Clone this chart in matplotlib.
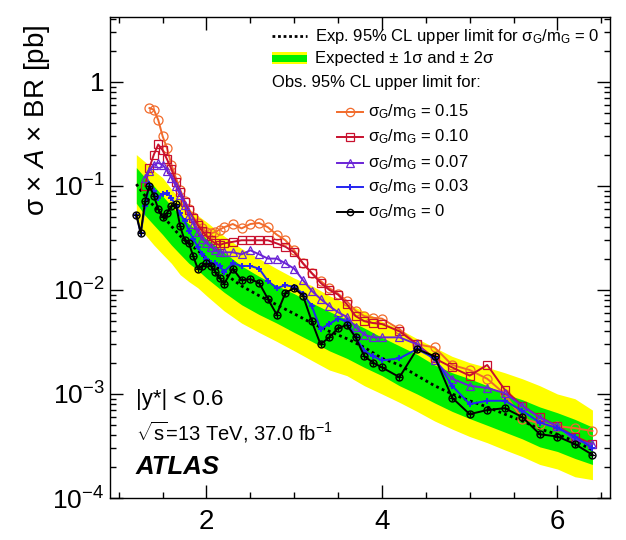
import numpy as np
import matplotlib
matplotlib.use('Agg')
import matplotlib.pyplot as plt
from matplotlib.lines import Line2D
from matplotlib.patches import Rectangle
from matplotlib.ticker import FixedLocator, FuncFormatter, NullFormatter, LogLocator

plt.rcParams['font.family'] = ['Liberation Sans', 'DejaVu Sans']
plt.rcParams['mathtext.fontset'] = 'custom'
plt.rcParams['mathtext.rm'] = 'Liberation Sans'
plt.rcParams['mathtext.it'] = 'Liberation Sans:italic'
plt.rcParams['mathtext.bf'] = 'Liberation Sans:bold'
plt.rcParams['mathtext.sf'] = 'Liberation Sans'

nan = np.nan

# ---------------- data ----------------
mass = [1.20, 1.25, 1.30, 1.35, 1.40, 1.45, 1.50, 1.55, 1.60, 1.65, 1.70, 1.75, 1.80, 1.85, 1.90,
        1.95, 2.00, 2.05, 2.10, 2.15, 2.20,
        2.3, 2.4, 2.5, 2.6, 2.7, 2.8, 2.9, 3.0, 3.1, 3.2, 3.3, 3.4, 3.5, 3.6, 3.7, 3.8, 3.9, 4.0,
        4.2, 4.4, 4.6, 4.8, 5.0, 5.2, 5.4, 5.6, 5.8, 6.0, 6.2, 6.4]

obs_015 = [nan, nan, nan, 0.56, 0.54, 0.43, 0.30, 0.23, 0.16, 0.12, 0.092, 0.072, 0.060, 0.050, 0.044,
           0.039, 0.036, 0.035, 0.036, 0.038, 0.040,
           0.043, 0.039, 0.043, 0.044, 0.040, 0.034, 0.030, 0.024, 0.018, 0.0145, 0.0122, 0.0104, 0.0092,
           0.0078, 0.0063, 0.0056, 0.0054, 0.0053,
           0.0042, 0.0030, 0.0028, 0.0019, 0.0017, 0.0014, 0.0010, 0.00058, 0.00052, 0.00049, 0.00047, 0.00044]

obs_010 = [nan, nan, 0.10, 0.15, 0.20, 0.25, 0.22, 0.18, 0.145, 0.11, 0.088, 0.070, 0.058, 0.049, 0.042,
           0.037, 0.033, 0.030, 0.028, 0.027, 0.028,
           0.029, 0.030, 0.030, 0.030, 0.030, 0.028, 0.026, 0.023, 0.018, 0.0145, 0.0117, 0.0100, 0.0090,
           0.0073, 0.0056, 0.0050, 0.0048, 0.0047,
           0.0040, 0.0030, 0.0022, 0.0018, 0.0015, 0.0019, 0.0011, 0.00077, 0.00060, 0.00049, 0.00039, 0.00033]

obs_007 = [nan, nan, 0.12, 0.14, 0.16, 0.166, 0.16, 0.14, 0.12, 0.10, 0.082, 0.066, 0.052, 0.043, 0.036,
           0.031, 0.028, 0.026, 0.024, 0.023, 0.023,
           0.023, 0.022, 0.024, 0.022, 0.020, 0.020, 0.018, 0.016, 0.0124, 0.0098, 0.0082, 0.0070, 0.0061,
           0.0055, 0.0044, 0.0037, 0.0035, 0.0035,
           0.0035, 0.0030, 0.0021, 0.0014, 0.0012, 0.00114, 0.00102, 0.00077, 0.00059, 0.00049, 0.00036, 0.00033]

obs_003 = [0.053, 0.035, 0.064, 0.104, 0.090, 0.077, 0.084, 0.086, 0.077, 0.064, 0.055, 0.046, 0.037, 0.031, 0.026,
           0.022, 0.020, 0.018, 0.018, 0.017, 0.015,
           0.018, 0.017, 0.017, 0.016, 0.0122, 0.0104, 0.0111, 0.0107, 0.0092, 0.0070, 0.0042, 0.0047, 0.0053,
           0.0050, 0.0035, 0.0026, 0.0023, 0.0021,
           0.0022, 0.0027, 0.0022, 0.0012, 0.00080, 0.00086, 0.00086, 0.00069, 0.00053, 0.00047, 0.00039, 0.00030]

obs_000 = [0.053, 0.035, 0.072, 0.100, 0.080, 0.060, 0.050, 0.055, 0.064, 0.067, 0.041, 0.030, 0.028, 0.021, 0.016,
           0.017, 0.018, 0.017, 0.015, 0.013, 0.0114,
           0.016, 0.0124, 0.0127, 0.0117, 0.0082, 0.0058, 0.0094, 0.0104, 0.0088, 0.0050, 0.0030, 0.0035, 0.0043,
           0.0046, 0.0035, 0.0023, 0.0020, 0.0018,
           0.00145, 0.0027, 0.0023, 0.00092, 0.00064, 0.00070, 0.00073, 0.00060, 0.00041, 0.00039, 0.00033, 0.00026]

exp_mass = [1.2, 1.3, 1.4, 1.5, 1.6, 1.7, 1.8, 1.9, 2.0, 2.2, 2.4, 2.6, 2.8, 3.0, 3.2, 3.4, 3.6, 3.8,
            4.0, 4.2, 4.4, 4.6, 4.8, 5.0, 5.2, 5.4, 5.6, 5.8, 6.0, 6.2, 6.4]
exp_med = [0.104, 0.080, 0.064, 0.052, 0.041, 0.033, 0.028, 0.024, 0.020, 0.0145, 0.0109, 0.0088, 0.0072,
           0.0059, 0.0048, 0.0040, 0.0034, 0.0028, 0.0022, 0.0019, 0.0015, 0.0012, 0.0010, 0.00086, 0.00075,
           0.00064, 0.00055, 0.00046, 0.00041, 0.00035, 0.00029]
exp_p2 = [0.20, 0.17, 0.14, 0.12, 0.093, 0.075, 0.060, 0.052, 0.045, 0.033, 0.025, 0.020, 0.016, 0.013,
          0.011, 0.0088, 0.0074, 0.0062, 0.0050, 0.0042, 0.0034, 0.0028, 0.0023, 0.0020, 0.0018, 0.0016,
          0.0014, 0.0012, 0.0010, 0.00090, 0.00070]
exp_p1 = [0.15, 0.12, 0.10, 0.080, 0.064, 0.052, 0.043, 0.037, 0.031, 0.023, 0.017, 0.0135, 0.011, 0.0092,
          0.0075, 0.0062, 0.0052, 0.0043, 0.0035, 0.0029, 0.0024, 0.0019, 0.0016, 0.0014, 0.0012, 0.0010,
          0.00088, 0.00075, 0.00066, 0.00057, 0.00048]
exp_m1 = [0.068, 0.052, 0.042, 0.034, 0.027, 0.022, 0.018, 0.0155, 0.013, 0.0095, 0.0072, 0.0058, 0.0048,
          0.0039, 0.0032, 0.0026, 0.0022, 0.0018, 0.0015, 0.0012, 0.0010, 0.00082, 0.00068, 0.00058, 0.00050,
          0.00043, 0.00037, 0.00031, 0.00028, 0.00024, 0.00021]
exp_m2 = [0.045, 0.034, 0.027, 0.022, 0.018, 0.014, 0.012, 0.0105, 0.0088, 0.0063, 0.0048, 0.0039, 0.0032,
          0.0026, 0.0021, 0.0017, 0.0015, 0.0012, 0.0010, 0.00083, 0.00068, 0.00055, 0.00046, 0.00039,
          0.00034, 0.00029, 0.00025, 0.00021, 0.00019, 0.00016, 0.00015]

x_major = [2, 4, 6]
x_minor = [1.0, 1.5, 2.5, 3.0, 3.5, 4.5, 5.0, 5.5, 6.5]
y_major = [1e-4, 1e-3, 1e-2, 1e-1, 1]

series_labels = ['0.15', '0.10', '0.07', '0.03', '0']

# ---------------- styles ----------------
C_OR = '#F26B2B'
C_RED = '#C8102E'
C_PUR = '#6A24D6'
C_BLU = '#2525F0'
C_BLK = '#000000'
C_YEL = '#FFFF00'
C_GRN = '#00EE00'

W, H = 626, 540
fig = plt.figure(figsize=(W / 100, H / 100), dpi=100)
ax = fig.add_axes([110 / W, 1 - 498 / H, 500 / W, 481 / H])

ax.fill_between(exp_mass, exp_m2, exp_p2, color=C_YEL, lw=0, zorder=1)
ax.fill_between(exp_mass, exp_m1, exp_p1, color=C_GRN, lw=0, zorder=2)
ax.plot(exp_mass, exp_med, color='k', ls=(0, (1, 1.2)), lw=2.0, zorder=3)

lw = 1.4
ax.plot(mass, obs_015, color=C_OR, lw=lw, marker='o', ms=6.5, mfc='none', mew=0.9, zorder=4)
ax.plot(mass, obs_010, color=C_RED, lw=lw, marker='s', ms=6, mfc='none', mew=0.9, zorder=5)
ax.plot(mass, obs_007, color=C_PUR, lw=lw, marker='^', ms=6, mfc='none', mew=0.9, zorder=6)
ax.plot(mass, obs_003, color=C_BLU, lw=lw, marker='+', ms=5, mew=1.4, zorder=7)
ax.plot(mass, obs_000, color=C_BLK, lw=lw, marker='o', ms=5, mfc='none', mew=1.0, zorder=8)
ax.plot(mass, obs_000, color=C_BLK, lw=0, marker='+', ms=5, mew=0.9, zorder=8)

ax.set_yscale('log')
ax.set_xlim(0.9, 6.6)
ax.set_ylim(1e-4, 4.2)

ax.xaxis.set_major_locator(FixedLocator(x_major))
ax.xaxis.set_minor_locator(FixedLocator(x_minor))
ax.xaxis.set_major_formatter(FuncFormatter(lambda v, p: f'{v:g}'))
ax.yaxis.set_major_locator(FixedLocator(y_major))
ax.yaxis.set_minor_locator(LogLocator(base=10, subs=np.arange(2, 10)))
ax.yaxis.set_minor_formatter(NullFormatter())


def yfmt(v, p):
    if abs(v - 1) < 1e-9:
        return '1'
    e = int(round(np.log10(v)))
    return r'$10^{%d}$' % e


ax.yaxis.set_major_formatter(FuncFormatter(yfmt))
ax.tick_params(which='both', direction='in', top=True, right=True, width=1.0)
ax.tick_params(axis='x', labelsize=20)
ax.tick_params(axis='y', labelsize=19)
ax.tick_params(which='major', length=9.5)
ax.tick_params(which='minor', length=4.5)
ax.tick_params(axis='y', which='major', pad=4)
ax.tick_params(axis='x', which='major', pad=8)
for s in ax.spines.values():
    s.set_linewidth(1.0)

ax.set_ylabel('σ × $A$ × BR [pb]', fontsize=20, loc='top')
ax.yaxis.set_label_coords(-0.115, 0.985)


def fx(px):
    return px / W


def fy(py):
    return 1 - py / H


# ---------------- legend (manual) ----------------
fs_leg = 12
fig.add_artist(Line2D([fx(272), fx(307)], [fy(36)] * 2, color='k', ls=(0, (1, 1)), lw=2.0))
fig.text(fx(315), fy(36), r'Exp. 95% CL upper limit for σ$_\mathrm{G}$/m$_\mathrm{G}$ = 0',
         fontsize=fs_leg, va='center', ha='left')
fig.add_artist(Rectangle((fx(272), fy(64)), fx(307) - fx(272), 12 / H, color=C_YEL, lw=0))
fig.add_artist(Rectangle((fx(272), fy(61.5)), fx(307) - fx(272), 7 / H, color=C_GRN, lw=0))
fig.text(fx(315), fy(58), 'Expected ± 1σ and ± 2σ', fontsize=fs_leg, va='center', ha='left')
fig.text(fx(272), fy(83), 'Obs. 95% CL upper limit for:', fontsize=fs_leg, va='center', ha='left')

leg_styles = [
    dict(color=C_OR, marker='o', ms=6, mfc='none', mew=0.9),
    dict(color=C_RED, marker='s', ms=6, mfc='none', mew=0.9),
    dict(color=C_PUR, marker='^', ms=6, mfc='none', mew=0.9),
    dict(color=C_BLU, marker='+', ms=5, mew=1.4),
    dict(color=C_BLK, marker='o', ms=4.5, mfc='none', mew=1.0),
]
rows = [112, 137, 163, 187, 212]
for lab, st, ry in zip(series_labels, leg_styles, rows):
    fig.add_artist(Line2D([fx(337), fx(350), fx(363)], [fy(ry)] * 3, lw=1.4, markevery=[1], **st))
    fig.text(fx(368), fy(ry), r'σ$_\mathrm{G}$/m$_\mathrm{G}$ = ' + lab,
             fontsize=fs_leg, va='center', ha='left')

# ---------------- annotations ----------------
fig.text(fx(136), fy(400), '|y*| < 0.6', fontsize=16, va='center', ha='left')
fig.text(fx(136), fy(432), r'$\sqrt{\mathrm{s}}$=13 TeV, 37.0 fb$^{\mathrm{-1}}$', fontsize=14.5,
         va='center', ha='left')
fig.text(fx(136), fy(467), 'ATLAS', fontsize=18.5, fontweight='bold', fontstyle='italic',
         va='center', ha='left')

fig.savefig('out.png', dpi=100)
